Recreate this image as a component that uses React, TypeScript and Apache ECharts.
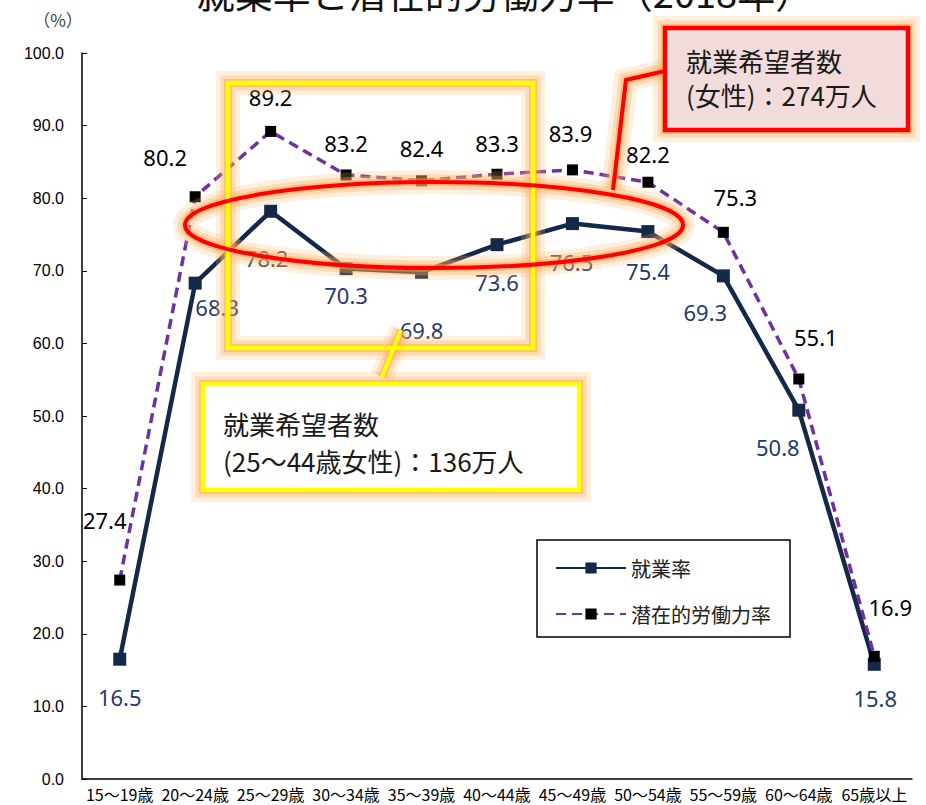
import React, { useEffect, useRef } from "react";
import * as echarts from "echarts";

const categories = ["15〜19歳", "20〜24歳", "25〜29歳", "30〜34歳", "35〜39歳", "40〜44歳", "45〜49歳", "50〜54歳", "55〜59歳", "60〜64歳", "65歳以上"];
const employmentRate = [16.5, 68.3, 78.2, 70.3, 69.8, 73.6, 76.5, 75.4, 69.3, 50.8, 15.8];
const potentialRate = [27.4, 80.2, 89.2, 83.2, 82.4, 83.3, 83.9, 82.2, 75.3, 55.1, 16.9];
const yTicks = [0, 10, 20, 30, 40, 50, 60, 70, 80, 90, 100];

// label offsets (style only)
const empOffsets = [[0, 38], [22, 24], [-4, 47], [0, 26], [0, 58], [0, 37], [-1, 38], [0, 39], [-18, 36], [-21, 37], [1, 34]];
const potOffsets = [[-15, -60], [-30, -40], [0, -34], [0, -32], [0, -33], [0, -31], [-2, -37], [0, -28], [12, -35], [17, -42], [16, -49]];

const cjk = "'Noto Sans CJK JP', sans-serif";

// soft orange halo drawn as wide translucent strokes beneath a shape
function halo(type: string, shape: any, z: number) {
  return [
    { type, shape, silent: true, style: { fill: "none", stroke: "rgba(255,180,100,0.22)", lineWidth: 24 }, z },
    { type, shape, silent: true, style: { fill: "none", stroke: "rgba(255,170,90,0.32)", lineWidth: 15 }, z },
    { type, shape, silent: true, style: { fill: "none", stroke: "rgba(255,160,70,0.45)", lineWidth: 8 }, z },
  ];
}

export default function App() {
  const ref = useRef<HTMLDivElement>(null);
  useEffect(() => {
    if (!ref.current) return;
    const chart = echarts.init(ref.current, undefined, { renderer: "svg" });
    const labelFont = "'Noto Sans', 'Open Sans', sans-serif";
    const rect1 = { x: 228, y: 83, width: 305, height: 265 };
    const ell = { cx: 434, cy: 225, rx: 249, ry: 43 };
    const poly = { points: [[665, 71], [626, 80], [613, 190]] };
    const rect2 = { x: 665, y: 28, width: 243, height: 102 };
    const ln = { x1: 401, y1: 330, x2: 382, y2: 377 };
    const rect3 = { x: 203, y: 384, width: 376, height: 106 };
    chart.setOption({
      animation: false,
      backgroundColor: "#ffffff",
      grid: { left: 82, right: 14, top: 53, bottom: 26, containLabel: false },
      xAxis: {
        type: "category",
        data: categories,
        boundaryGap: true,
        axisLine: { lineStyle: { color: "#000", width: 1.5 } },
        axisTick: { inside: true, length: 5, lineStyle: { color: "#000" } },
        axisLabel: { color: "#000", fontSize: 16, margin: 7, interval: 0, fontFamily: cjk },
        splitLine: { show: false },
      },
      yAxis: {
        type: "value",
        min: yTicks[0],
        max: yTicks[yTicks.length - 1],
        interval: 10,
        axisLine: { show: true, lineStyle: { color: "#000", width: 1.5 } },
        axisTick: { show: true, inside: true, length: 5, lineStyle: { color: "#000" } },
        axisLabel: { color: "#000", fontSize: 16, margin: 18, fontFamily: "'Liberation Sans', Arial, sans-serif", formatter: (v: number) => v.toFixed(1) },
        splitLine: { show: false },
      },
      legend: {
        orient: "vertical",
        left: 550,
        top: 553,
        itemWidth: 70,
        itemHeight: 14,
        itemGap: 26,
        textStyle: { fontSize: 20, color: "#222", fontFamily: cjk },
        data: ["就業率", "潜在的労働力率"],
      },
      series: [
        {
          name: "就業率",
          type: "line",
          data: employmentRate.map((v, i) => ({ value: v, label: { offset: empOffsets[i] } })),
          symbol: "rect",
          symbolSize: 13,
          lineStyle: { color: "#14294a", width: 4.5 },
          itemStyle: { color: "#14294a" },
          label: {
            show: true,
            position: "inside",
            color: "#1f3a6e",
            fontSize: 22,
            fontFamily: labelFont,
            formatter: (p: any) => Number(p.value).toFixed(1),
          },
          z: 3,
        },
        {
          name: "潜在的労働力率",
          type: "line",
          data: potentialRate.map((v, i) => ({ value: v, label: { offset: potOffsets[i] } })),
          symbol: "rect",
          symbolSize: 11,
          lineStyle: { color: "#7030a0", width: 3.5, type: [10, 6] },
          itemStyle: { color: "#000000" },
          label: {
            show: true,
            position: "inside",
            color: "#000",
            fontSize: 22,
            fontFamily: labelFont,
            formatter: (p: any) => Number(p.value).toFixed(1),
          },
          z: 4,
        },
      ],
      graphic: [
        {
          type: "text",
          x: 505, y: -9,
          style: { text: "就業率と潜在的労働力率（2018年）", fontSize: 38, fill: "#111", align: "center", verticalAlign: "middle", fontFamily: cjk },
          z: 10,
        },
        {
          type: "text",
          x: 58, y: 19,
          style: { text: "（%）", fontSize: 17, fill: "#444", align: "center", verticalAlign: "middle", fontFamily: cjk },
        },
        {
          type: "rect",
          shape: { x: 537, y: 540, width: 253, height: 97 },
          style: { fill: "#fff", stroke: "#000", lineWidth: 1.5 },
          z: 1,
        },
        ...halo("rect", rect1, 19),
        ...halo("ellipse", ell, 19),
        ...halo("polyline", poly, 19),
        ...halo("line", ln, 19),
        ...halo("rect", rect2, 19),
        ...halo("rect", rect3, 19),
        { type: "rect", shape: rect1, style: { fill: "none", stroke: "#ffff00", lineWidth: 4.5 }, z: 20 },
        { type: "ellipse", shape: ell, style: { fill: "none", stroke: "#ff0000", lineWidth: 4 }, z: 21 },
        { type: "polyline", shape: poly, style: { fill: "none", stroke: "#ff0000", lineWidth: 4 }, z: 21 },
        { type: "line", shape: ln, style: { stroke: "#ffff00", lineWidth: 4 }, z: 20 },
        { type: "rect", shape: rect2, style: { fill: "#f2dcdb", stroke: "#ff0000", lineWidth: 4.5 }, z: 22 },
        {
          type: "text",
          x: 686, y: 60,
          style: { text: "就業希望者数", fontSize: 26, fill: "#1a1a1a", verticalAlign: "middle", fontFamily: cjk },
          z: 23,
        },
        {
          type: "text",
          x: 686, y: 94,
          style: { text: "(女性)：274万人", fontSize: 26, fill: "#1a1a1a", verticalAlign: "middle", fontFamily: cjk },
          z: 23,
        },
        { type: "rect", shape: rect3, style: { fill: "#ffffff", stroke: "#ffff00", lineWidth: 4.5 }, z: 22 },
        {
          type: "text",
          x: 223, y: 423,
          style: { text: "就業希望者数", fontSize: 26, fill: "#1a1a1a", verticalAlign: "middle", fontFamily: cjk },
          z: 23,
        },
        {
          type: "text",
          x: 223, y: 460,
          style: { text: "(25〜44歳女性)：136万人", fontSize: 26, fill: "#1a1a1a", verticalAlign: "middle", fontFamily: cjk },
          z: 23,
        },
      ],
    });
    return () => chart.dispose();
  }, []);
  return <div ref={ref} style={{ position: "absolute", left: 0, top: 0, width: 926, height: 805 }} />;
}
